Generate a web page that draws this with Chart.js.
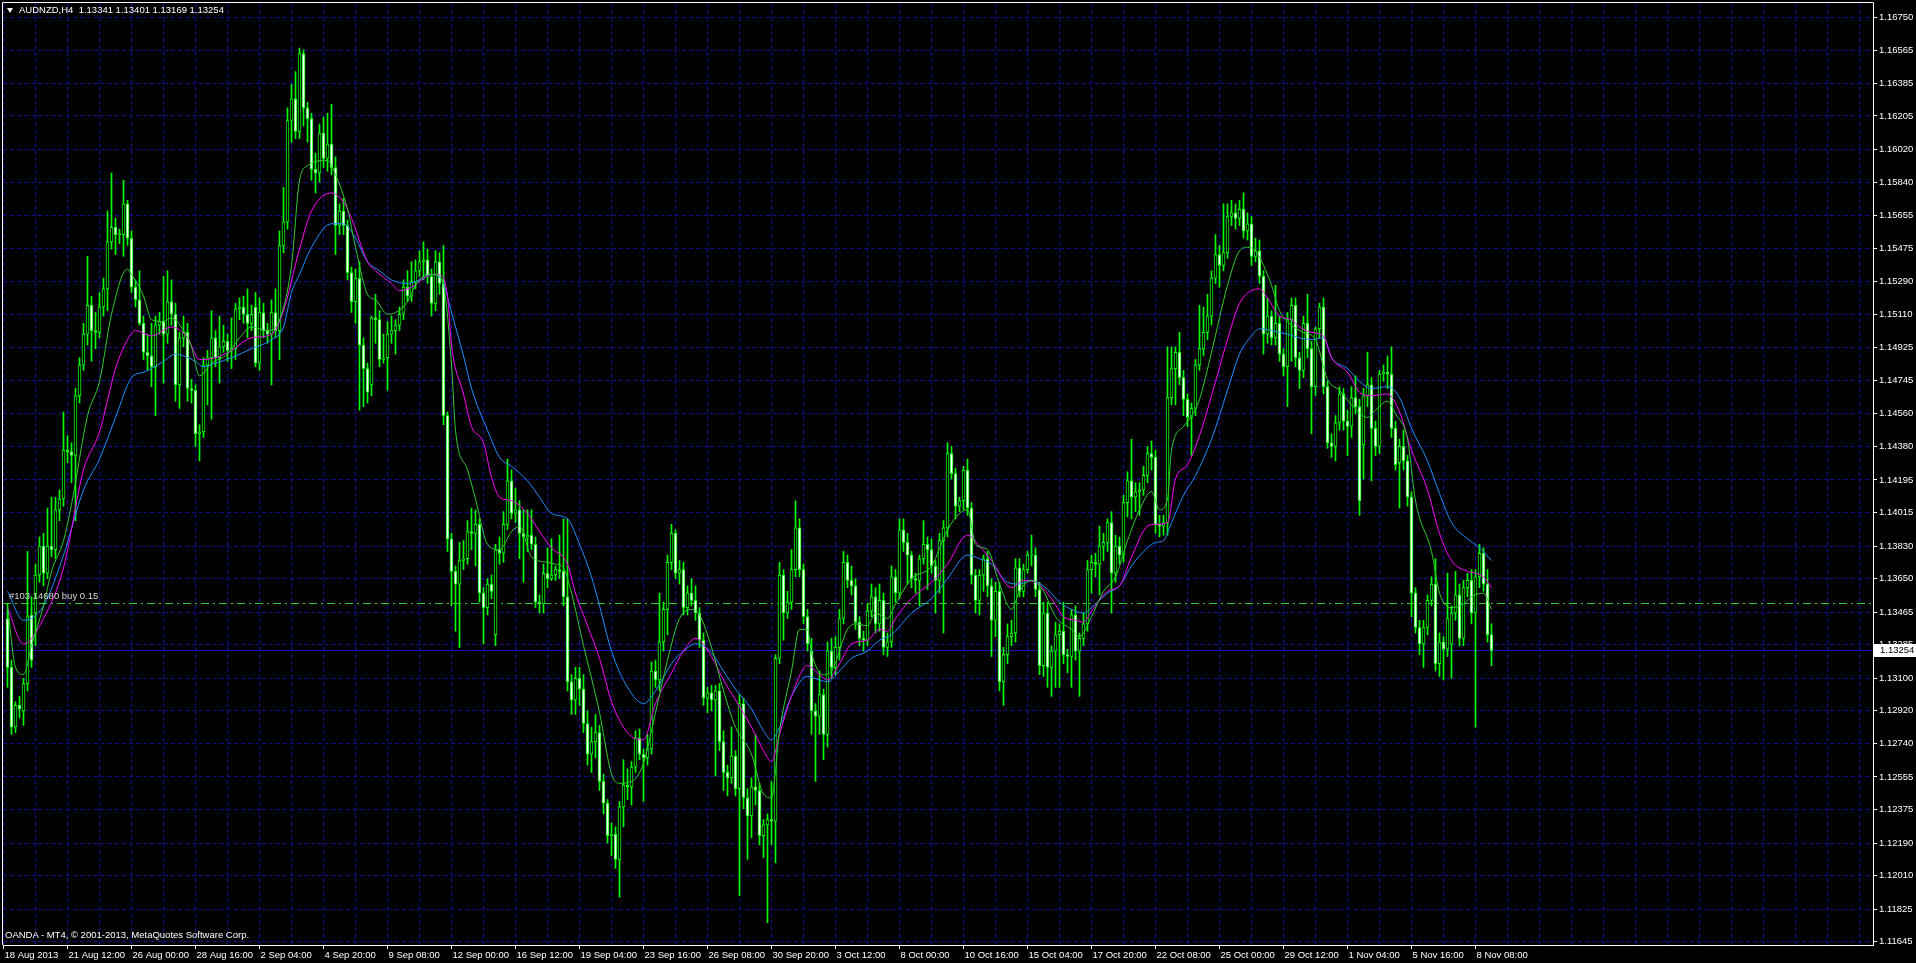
<!DOCTYPE html>
<html>
<head>
<meta charset="utf-8">
<title>AUDNZD,H4</title>
<script src="https://cdn.jsdelivr.net/npm/chart.js@4.4.1/dist/chart.umd.min.js"></script>
<style>
  html, body { margin:0; padding:0; background:#000; overflow:hidden; }
  #wrap { position:relative; width:1916px; height:963px; background:#000; }
  #chart { position:absolute; left:0; top:0; }
  .lbl { position:absolute; font-family:"Liberation Sans", Arial, sans-serif; font-size:9.5px; line-height:11px; color:#fff; white-space:pre; }
  #tri { position:absolute; left:7px; top:8px; width:0; height:0; border-left:3px solid transparent; border-right:3px solid transparent; border-top:5px solid #fff; }
</style>
</head>
<body>
<div id="wrap">
  <canvas id="chart" width="1916" height="963"></canvas>
  <div id="tri"></div>
  <div class="lbl" id="hdr" style="left:19px; top:4px;"></div>
  <div class="lbl" id="ord" style="left:9px; top:590px; color:#d8d8d8;"></div>
  <div class="lbl" id="ftr" style="left:5px; top:929px;"></div>
</div>
<script>
// ---------------- text ----------------
const symbolName = 'AUDNZD,H4';
const headerOHLC = ['1.13341', '1.13401', '1.13169', '1.13254'];
const orderText = '#103 14680 buy 0.15';
const copyrightText = 'OANDA - MT4, \u00A9 2001-2013, MetaQuotes Software Corp.';

// ---------------- axis tick labels ----------------
const xTickLabels = ['18 Aug 2013','21 Aug 12:00','26 Aug 00:00','28 Aug 16:00','2 Sep 04:00','4 Sep 20:00',
  '9 Sep 08:00','12 Sep 00:00','16 Sep 12:00','19 Sep 04:00','23 Sep 16:00','26 Sep 08:00','30 Sep 20:00',
  '3 Oct 12:00','8 Oct 00:00','10 Oct 16:00','15 Oct 04:00','17 Oct 20:00','22 Oct 08:00','25 Oct 00:00',
  '29 Oct 12:00','1 Nov 04:00','5 Nov 16:00','8 Nov 08:00'];
const yTickLabels = ['1.16750','1.16565','1.16385','1.16205','1.16020','1.15840','1.15655','1.15475','1.15290',
  '1.15110','1.14925','1.14745','1.14560','1.14380','1.14195','1.14015','1.13830','1.13650','1.13465','1.13285',
  '1.13100','1.12920','1.12740','1.12555','1.12375','1.12190','1.12010','1.11825','1.11645'];

// ---------------- candles (H4 bars, oldest first) ----------------
const openP = [
1.1343,1.1316,1.1283,1.1295,1.1292,1.1307,1.1345,1.1346,1.1367,1.1383,
1.1368,1.1383,1.1381,1.1403,1.1409,1.1436,1.1435,1.1433,1.1466,1.1483,
1.1500,1.1516,1.1502,1.1501,1.1515,1.1525,1.1551,1.1559,1.1555,1.1555,
1.1572,1.1553,1.1526,1.1519,1.1506,1.1490,1.1488,1.1482,1.1505,1.1507,
1.1500,1.1518,1.1511,1.1472,1.1498,1.1501,1.1470,1.1469,1.1445,1.1446,
1.1483,1.1487,1.1498,1.1487,1.1493,1.1496,1.1491,1.1492,1.1514,1.1515,
1.1511,1.1506,1.1515,1.1484,1.1512,1.1502,1.1500,1.1512,1.1502,1.1549,
1.1562,1.1618,1.1630,1.1612,1.1655,1.1625,1.1619,1.1591,1.1589,1.1611,
1.1597,1.1605,1.1592,1.1560,1.1568,1.1560,1.1534,1.1518,1.1531,1.1494,
1.1481,1.1472,1.1509,1.1508,1.1486,1.1487,1.1500,1.1502,1.1505,1.1511,
1.1526,1.1521,1.1529,1.1535,1.1540,1.1541,1.1532,1.1517,1.1540,1.1528,
1.1455,1.1387,1.1369,1.1362,1.1375,1.1376,1.1391,1.1390,1.1395,1.1357,
1.1349,1.1362,1.1334,1.1381,1.1379,1.1395,1.1419,1.1401,1.1403,1.1390,
1.1388,1.1389,1.1384,1.1352,1.1351,1.1368,1.1365,1.1367,1.1370,1.1369,
1.1355,1.1308,1.1298,1.1310,1.1304,1.1285,1.1268,1.1275,1.1280,1.1253,
1.1241,1.1223,1.1224,1.1210,1.1239,1.1251,1.1250,1.1261,1.1277,1.1268,
1.1266,1.1271,1.1314,1.1309,1.1330,1.1348,1.1374,1.1390,1.1368,1.1370,
1.1349,1.1357,1.1353,1.1346,1.1331,1.1299,1.1302,1.1298,1.1303,1.1275,
1.1258,1.1255,1.1267,1.1249,1.1296,1.1244,1.1234,1.1250,1.1248,1.1223,
1.1229,1.1232,1.1231,1.1321,1.1367,1.1346,1.1352,1.1370,1.1393,1.1370,
1.1344,1.1325,1.1292,1.1289,1.1301,1.1279,1.1325,1.1316,1.1327,1.1343,
1.1374,1.1364,1.1361,1.1341,1.1332,1.1331,1.1347,1.1355,1.1340,1.1353,
1.1327,1.1330,1.1366,1.1357,1.1392,1.1385,1.1378,1.1365,1.1364,1.1376,
1.1384,1.1381,1.1372,1.1364,1.1386,1.1393,1.1434,1.1423,1.1405,1.1408,
1.1425,1.1404,1.1367,1.1353,1.1367,1.1376,1.1361,1.1342,1.1358,1.1308,
1.1323,1.1333,1.1335,1.1371,1.1358,1.1370,1.1378,1.1378,1.1359,1.1317,
1.1346,1.1316,1.1325,1.1334,1.1336,1.1323,1.1322,1.1345,1.1325,1.1332,
1.1340,1.1370,1.1374,1.1373,1.1383,1.1385,1.1396,1.1368,1.1383,1.1378,
1.1407,1.1419,1.1410,1.1413,1.1414,1.1422,1.1434,1.1432,1.1395,1.1394,
1.1396,1.1465,1.1481,1.1490,1.1476,1.1464,1.1454,1.1459,1.1483,1.1492,
1.1501,1.1510,1.1531,1.1544,1.1538,1.1545,1.1565,1.1567,1.1564,1.1569,
1.1557,1.1561,1.1543,1.1546,1.1532,1.1500,1.1510,1.1498,1.1506,1.1489,
1.1482,1.1508,1.1516,1.1487,1.1480,1.1506,1.1492,1.1471,1.1503,1.1515,
1.1471,1.1440,1.1438,1.1451,1.1467,1.1452,1.1449,1.1465,1.1460,1.1439,
1.1466,1.1472,1.1448,1.1438,1.1478,1.1479,1.1478,1.1448,1.1429,1.1438,
1.1430,1.1410,1.1357,1.1338,1.1329,1.1338,1.1353,1.1362,1.1318,1.1330,
1.1326,1.1329,1.1346,1.1356,1.1332,1.1360,1.1364,1.1346,1.1366,1.1379,
1.1362,1.13341];
const highP = [
1.1351,1.1320,1.1297,1.1300,1.1310,1.1380,1.1355,1.1373,1.1388,1.1390,
1.1404,1.1410,1.1410,1.1414,1.1457,1.1444,1.1440,1.1470,1.1487,1.1506,
1.1543,1.1521,1.1512,1.1523,1.1531,1.1568,1.1589,1.1564,1.1558,1.1585,
1.1574,1.1557,1.1530,1.1535,1.1510,1.1500,1.1506,1.1510,1.1512,1.1532,
1.1535,1.1530,1.1517,1.1501,1.1510,1.1506,1.1475,1.1472,1.1450,1.1487,
1.1491,1.1513,1.1502,1.1510,1.1505,1.1500,1.1509,1.1517,1.1520,1.1521,
1.1525,1.1516,1.1523,1.1520,1.1517,1.1506,1.1519,1.1525,1.1557,1.1581,
1.1625,1.1638,1.1645,1.1658,1.1657,1.1628,1.1622,1.1600,1.1616,1.1620,
1.1622,1.1627,1.1598,1.1572,1.1575,1.1563,1.1537,1.1536,1.1540,1.1498,
1.1484,1.1510,1.1522,1.1513,1.1500,1.1507,1.1510,1.1508,1.1515,1.1530,
1.1535,1.1540,1.1541,1.1546,1.1551,1.1547,1.1536,1.1546,1.1545,1.1549,
1.1457,1.1390,1.1372,1.1385,1.1386,1.1397,1.1404,1.1403,1.1398,1.1360,
1.1365,1.1367,1.1384,1.1388,1.1402,1.1431,1.1425,1.1415,1.1408,1.1403,
1.1403,1.1403,1.1388,1.1356,1.1373,1.1382,1.1387,1.1372,1.1389,1.1398,
1.1398,1.1312,1.1316,1.1316,1.1312,1.1292,1.1283,1.1290,1.1284,1.1257,
1.1243,1.1230,1.1228,1.1242,1.1265,1.1260,1.1264,1.1281,1.1282,1.1271,
1.1279,1.1319,1.1320,1.1357,1.1352,1.1378,1.1395,1.1392,1.1375,1.1374,
1.1361,1.1365,1.1361,1.1349,1.1335,1.1305,1.1306,1.1306,1.1307,1.1281,
1.1262,1.1283,1.1270,1.1301,1.1299,1.1249,1.1255,1.1279,1.1252,1.1232,
1.1235,1.1253,1.1323,1.1374,1.1370,1.1358,1.1381,1.1408,1.1398,1.1373,
1.1348,1.1332,1.1296,1.1314,1.1304,1.1330,1.1332,1.1333,1.1348,1.1380,
1.1378,1.1372,1.1365,1.1344,1.1336,1.1351,1.1362,1.1360,1.1362,1.1357,
1.1335,1.1372,1.1370,1.1398,1.1398,1.1390,1.1380,1.1368,1.1378,1.1397,
1.1388,1.1387,1.1375,1.1390,1.1397,1.1440,1.1438,1.1426,1.1410,1.1427,
1.1431,1.1407,1.1370,1.1370,1.1378,1.1380,1.1365,1.1363,1.1363,1.1327,
1.1340,1.1342,1.1376,1.1376,1.1373,1.1380,1.1389,1.1382,1.1363,1.1352,
1.1352,1.1328,1.1341,1.1340,1.1352,1.1326,1.1348,1.1350,1.1335,1.1346,
1.1375,1.1378,1.1379,1.1394,1.1390,1.1398,1.1402,1.1389,1.1388,1.1411,
1.1424,1.1442,1.1418,1.1418,1.1427,1.1438,1.1441,1.1436,1.1400,1.1400,
1.1493,1.1493,1.1493,1.1501,1.1480,1.1467,1.1462,1.1486,1.1516,1.1515,
1.1522,1.1535,1.1555,1.1549,1.1572,1.1572,1.1574,1.1572,1.1574,1.1578,
1.1567,1.1565,1.1553,1.1552,1.1535,1.1520,1.1513,1.1527,1.1510,1.1492,
1.1512,1.1520,1.1520,1.1490,1.1510,1.1522,1.1496,1.1504,1.1517,1.1520,
1.1474,1.1445,1.1455,1.1471,1.1470,1.1458,1.1471,1.1477,1.1464,1.1470,
1.1490,1.1476,1.1452,1.1480,1.1483,1.1488,1.1493,1.1452,1.1442,1.1447,
1.1433,1.1413,1.1360,1.1342,1.1342,1.1356,1.1366,1.1376,1.1335,1.1333,
1.1368,1.1350,1.1369,1.1362,1.1364,1.1368,1.1370,1.1370,1.1384,1.1382,
1.1370,1.13401];
const lowP = [
1.1305,1.1279,1.1280,1.1288,1.1284,1.1303,1.1316,1.1328,1.1363,1.1361,
1.1365,1.1377,1.1376,1.1397,1.1405,1.1429,1.1418,1.1397,1.1462,1.1480,
1.1494,1.1485,1.1492,1.1498,1.1510,1.1513,1.1547,1.1544,1.1550,1.1543,
1.1549,1.1523,1.1515,1.1505,1.1486,1.1480,1.1471,1.1455,1.1500,1.1473,
1.1495,1.1505,1.1463,1.1459,1.1493,1.1463,1.1462,1.1438,1.1430,1.1443,
1.1461,1.1453,1.1482,1.1473,1.1490,1.1485,1.1481,1.1486,1.1508,1.1506,
1.1498,1.1502,1.1482,1.1480,1.1498,1.1495,1.1472,1.1498,1.1486,1.1545,
1.1558,1.1606,1.1608,1.1608,1.1615,1.1606,1.1585,1.1578,1.1584,1.1592,
1.1590,1.1588,1.1544,1.1555,1.1555,1.1530,1.1512,1.1506,1.1458,1.1460,
1.1462,1.1466,1.1495,1.1482,1.1484,1.1469,1.1495,1.1489,1.1502,1.1508,
1.1518,1.1518,1.1525,1.1532,1.1530,1.1528,1.1510,1.1513,1.1522,1.1450,
1.1380,1.1350,1.1336,1.1327,1.1370,1.1373,1.1381,1.1372,1.1352,1.1329,
1.1345,1.1354,1.1328,1.1373,1.1374,1.1392,1.1398,1.1396,1.1376,1.1363,
1.1380,1.1381,1.1349,1.1346,1.1346,1.1360,1.1364,1.1364,1.1365,1.1350,
1.1303,1.1290,1.1290,1.1295,1.1280,1.1262,1.1258,1.1266,1.1248,1.1235,
1.1219,1.1212,1.1205,1.1189,1.1228,1.1243,1.1240,1.1258,1.1265,1.1242,
1.1262,1.1268,1.1305,1.1303,1.1325,1.1334,1.1370,1.1365,1.1362,1.1345,
1.1345,1.1350,1.1342,1.1327,1.1295,1.1291,1.1292,1.1256,1.1270,1.1248,
1.1245,1.1252,1.1245,1.1190,1.1238,1.1210,1.1222,1.1240,1.1218,1.1211,
1.1175,1.1218,1.1208,1.1318,1.1331,1.1343,1.1348,1.1366,1.1366,1.1340,
1.1325,1.1279,1.1253,1.1279,1.1265,1.1272,1.1310,1.1312,1.1320,1.1340,
1.1360,1.1356,1.1337,1.1328,1.1325,1.1328,1.1344,1.1335,1.1336,1.1323,
1.1322,1.1327,1.1352,1.1354,1.1380,1.1362,1.1360,1.1357,1.1350,1.1373,
1.1359,1.1368,1.1346,1.1357,1.1335,1.1388,1.1420,1.1398,1.1402,1.1403,
1.1400,1.1362,1.1346,1.1345,1.1358,1.1355,1.1322,1.1333,1.1303,1.1295,
1.1318,1.1328,1.1330,1.1355,1.1355,1.1368,1.1372,1.1355,1.1312,1.1311,
1.1305,1.1300,1.1305,1.1305,1.1318,1.1313,1.1305,1.1320,1.1300,1.1328,
1.1336,1.1357,1.1366,1.1356,1.1375,1.1380,1.1346,1.1363,1.1373,1.1374,
1.1399,1.1398,1.1402,1.1400,1.1411,1.1418,1.1425,1.1390,1.1388,1.1389,
1.1389,1.1461,1.1461,1.1472,1.1455,1.1449,1.1433,1.1455,1.1480,1.1488,
1.1497,1.1505,1.1528,1.1526,1.1535,1.1542,1.1560,1.1558,1.1560,1.1553,
1.1552,1.1538,1.1540,1.1528,1.1489,1.1495,1.1494,1.1494,1.1485,1.1477,
1.1460,1.1485,1.1482,1.1470,1.1476,1.1487,1.1445,1.1466,1.1498,1.1467,
1.1437,1.1432,1.1430,1.1447,1.1447,1.1433,1.1443,1.1456,1.1400,1.1420,
1.1460,1.1419,1.1433,1.1434,1.1474,1.1470,1.1443,1.1425,1.1404,1.1425,
1.1405,1.1344,1.1335,1.1323,1.1316,1.1334,1.1350,1.1314,1.1311,1.1309,
1.1322,1.1310,1.1342,1.1328,1.1328,1.1355,1.1340,1.1283,1.1360,1.1358,
1.1330,1.13169];
const closeP = [
1.1316,1.1283,1.1295,1.1293,1.1307,1.1344,1.1320,1.1367,1.1383,1.1368,
1.1383,1.1381,1.1403,1.1409,1.1436,1.1435,1.1433,1.1466,1.1483,1.1500,
1.1516,1.1502,1.1501,1.1515,1.1525,1.1551,1.1559,1.1555,1.1555,1.1572,
1.1553,1.1526,1.1519,1.1506,1.1490,1.1488,1.1482,1.1505,1.1507,1.1500,
1.1518,1.1511,1.1472,1.1498,1.1501,1.1470,1.1469,1.1445,1.1446,1.1483,
1.1487,1.1498,1.1487,1.1493,1.1496,1.1491,1.1492,1.1514,1.1515,1.1511,
1.1506,1.1511,1.1484,1.1512,1.1502,1.1500,1.1512,1.1502,1.1549,1.1562,
1.1618,1.1630,1.1612,1.1655,1.1625,1.1619,1.1591,1.1589,1.1611,1.1597,
1.1605,1.1592,1.1560,1.1568,1.1560,1.1534,1.1518,1.1531,1.1494,1.1481,
1.1468,1.1509,1.1508,1.1486,1.1487,1.1500,1.1502,1.1505,1.1511,1.1526,
1.1521,1.1529,1.1535,1.1540,1.1541,1.1532,1.1517,1.1540,1.1528,1.1455,
1.1387,1.1369,1.1362,1.1375,1.1376,1.1391,1.1390,1.1395,1.1357,1.1349,
1.1362,1.1358,1.1381,1.1379,1.1395,1.1419,1.1401,1.1403,1.1390,1.1388,
1.1389,1.1384,1.1352,1.1351,1.1368,1.1365,1.1367,1.1370,1.1369,1.1355,
1.1308,1.1298,1.1310,1.1304,1.1285,1.1268,1.1275,1.1280,1.1253,1.1241,
1.1223,1.1224,1.1210,1.1239,1.1251,1.1250,1.1261,1.1277,1.1268,1.1266,
1.1271,1.1314,1.1309,1.1330,1.1348,1.1374,1.1390,1.1368,1.1370,1.1349,
1.1357,1.1353,1.1346,1.1331,1.1299,1.1302,1.1298,1.1303,1.1275,1.1258,
1.1255,1.1267,1.1249,1.1296,1.1244,1.1234,1.1250,1.1248,1.1223,1.1229,
1.1232,1.1231,1.1321,1.1367,1.1346,1.1352,1.1370,1.1393,1.1370,1.1344,
1.1329,1.1292,1.1289,1.1301,1.1279,1.1325,1.1316,1.1327,1.1343,1.1374,
1.1364,1.1361,1.1341,1.1332,1.1331,1.1347,1.1355,1.1340,1.1353,1.1327,
1.1330,1.1366,1.1357,1.1392,1.1385,1.1378,1.1365,1.1364,1.1376,1.1384,
1.1381,1.1372,1.1364,1.1386,1.1393,1.1434,1.1423,1.1405,1.1408,1.1425,
1.1404,1.1367,1.1353,1.1367,1.1376,1.1361,1.1342,1.1358,1.1308,1.1323,
1.1333,1.1335,1.1371,1.1358,1.1370,1.1378,1.1378,1.1359,1.1317,1.1346,
1.1316,1.1325,1.1334,1.1336,1.1323,1.1322,1.1345,1.1325,1.1332,1.1340,
1.1370,1.1374,1.1373,1.1383,1.1385,1.1396,1.1368,1.1383,1.1378,1.1407,
1.1419,1.1410,1.1413,1.1414,1.1422,1.1434,1.1432,1.1395,1.1394,1.1396,
1.1465,1.1481,1.1490,1.1476,1.1464,1.1454,1.1459,1.1483,1.1492,1.1501,
1.1510,1.1531,1.1544,1.1538,1.1545,1.1565,1.1567,1.1564,1.1569,1.1557,
1.1561,1.1543,1.1546,1.1532,1.1500,1.1510,1.1498,1.1506,1.1489,1.1482,
1.1508,1.1516,1.1487,1.1480,1.1506,1.1492,1.1471,1.1503,1.1515,1.1471,
1.1440,1.1438,1.1451,1.1467,1.1452,1.1449,1.1465,1.1460,1.1408,1.1466,
1.1472,1.1448,1.1438,1.1478,1.1479,1.1478,1.1448,1.1428,1.1438,1.1430,
1.1410,1.1357,1.1338,1.1329,1.1338,1.1353,1.1362,1.1318,1.1330,1.1326,
1.1343,1.1346,1.1356,1.1332,1.1360,1.1364,1.1346,1.1366,1.1379,1.1362,
1.1334,1.13254];

// ---------------- moving averages (values read at bar indices) ----------------
const maFastBar = [0,2,4,6,9,11,14,16,20,23,26,30,31,34,36,39,41,44,46,48,51,55,58,61,65,68,71,73,75,80,82,85,87,90,92,95,97,100,102,105,107,109,111,112,115,117,120,123,126,128,131,135,137,139,141,144,146,148,151,153,156,159,162,165,168,171,173,176,179,182,186,189,191,193,196,198,200,201,204,206,210,212,215,217,220,222,226,231,235,238,240,242,245,248,251,253,256,259,262,266,268,271,274,277,280,283,286,288,290,291,294,296,298,301,305,308,310,312,314,316,318,321,324,327,330,333,336,340,342,345,347,350,352,356,358,361,364,366,369,371];
const maFastVal = [1.1350,1.1316,1.1312,1.1328,1.1350,1.1369,1.1386,1.1406,1.1455,1.1474,1.1511,1.1536,1.1533,1.1521,1.1508,1.1507,1.1509,1.1502,1.1493,1.1477,1.1484,1.1489,1.1498,1.1504,1.1502,1.1508,1.1538,1.1585,1.1593,1.1596,1.1588,1.1569,1.1548,1.1522,1.1519,1.1511,1.1512,1.1518,1.1527,1.1533,1.1533,1.1527,1.1483,1.1447,1.1425,1.1409,1.1384,1.1381,1.1391,1.1394,1.1377,1.1374,1.1373,1.1371,1.1357,1.1328,1.1310,1.1291,1.1257,1.1252,1.1253,1.1263,1.1291,1.1320,1.1343,1.1348,1.1345,1.1327,1.1303,1.1283,1.1268,1.1246,1.1244,1.1281,1.1314,1.1337,1.1337,1.1324,1.1312,1.1314,1.1337,1.1340,1.1339,1.1346,1.1343,1.1351,1.1365,1.1372,1.1392,1.1401,1.1403,1.1384,1.1381,1.1362,1.1348,1.1358,1.1364,1.1358,1.1344,1.1337,1.1333,1.1344,1.1358,1.1366,1.1386,1.1403,1.1413,1.1403,1.1409,1.1436,1.1449,1.1455,1.1464,1.1490,1.1527,1.1546,1.1548,1.1546,1.1538,1.1527,1.1513,1.1505,1.1501,1.1497,1.1475,1.1469,1.1461,1.1454,1.1458,1.1463,1.1456,1.1442,1.1408,1.1380,1.1357,1.1349,1.1351,1.1355,1.1357,1.1348];

const maMidBar = [0,4,9,14,19,23,27,30,32,36,41,45,48,52,56,61,66,69,73,76,81,84,86,90,92,96,98,101,103,106,108,110,111,114,116,119,121,123,126,130,133,136,140,142,145,148,151,155,159,162,166,169,172,176,179,182,186,189,191,193,196,200,203,205,208,211,215,218,220,222,226,231,235,240,243,246,251,254,257,261,264,267,269,271,275,278,281,285,287,290,292,295,298,301,305,308,313,315,318,321,323,326,329,331,335,338,341,345,348,351,355,358,361,365,367,369,371];
const maMidVal = [1.1349,1.1329,1.1343,1.1371,1.1425,1.1446,1.1481,1.1497,1.1502,1.1499,1.1504,1.1498,1.1486,1.1487,1.1491,1.1498,1.1500,1.1513,1.1547,1.1568,1.1578,1.1573,1.1564,1.1540,1.1535,1.1528,1.1524,1.1526,1.1529,1.1533,1.1533,1.1521,1.1494,1.1467,1.1449,1.1440,1.1421,1.1410,1.1408,1.1401,1.1391,1.1382,1.1373,1.1357,1.1339,1.1321,1.1297,1.1280,1.1276,1.1296,1.1313,1.1325,1.1332,1.1322,1.1309,1.1298,1.1283,1.1270,1.1264,1.1279,1.1300,1.1317,1.1312,1.1309,1.1318,1.1329,1.1331,1.1337,1.1336,1.1343,1.1354,1.1363,1.1373,1.1389,1.1383,1.1375,1.1360,1.1364,1.1363,1.1354,1.1344,1.1342,1.1341,1.1347,1.1358,1.1361,1.1377,1.1394,1.1395,1.1396,1.1420,1.1428,1.1444,1.1466,1.1497,1.1517,1.1525,1.1520,1.1510,1.1508,1.1504,1.1501,1.1499,1.1487,1.1479,1.1468,1.1466,1.1467,1.1457,1.1436,1.1414,1.1390,1.1375,1.1369,1.1368,1.1366,1.1360];

const maSlowBar = [0,4,9,14,19,23,27,31,34,36,39,42,44,47,49,52,56,61,66,69,71,73,76,81,84,87,90,93,96,100,103,106,109,111,114,116,120,123,126,130,133,136,140,143,146,148,151,155,159,162,166,169,172,176,179,182,186,189,191,193,196,200,203,205,208,211,215,218,221,226,231,235,240,243,246,250,253,256,260,263,266,269,271,275,278,281,285,287,289,291,294,297,301,305,308,311,313,316,320,323,326,329,331,335,338,341,345,348,351,355,358,361,365,368,371];
const maSlowVal = [1.1358,1.1342,1.1350,1.1378,1.1414,1.1431,1.1454,1.1476,1.1479,1.1481,1.1485,1.1489,1.1488,1.1485,1.1482,1.1484,1.1487,1.1492,1.1497,1.1504,1.1523,1.1533,1.1548,1.1561,1.1561,1.1553,1.1540,1.1535,1.1530,1.1528,1.1530,1.1533,1.1528,1.1512,1.1488,1.1470,1.1447,1.1432,1.1427,1.1419,1.1410,1.1401,1.1398,1.1384,1.1366,1.1350,1.1325,1.1305,1.1296,1.1303,1.1318,1.1325,1.1329,1.1324,1.1314,1.1304,1.1293,1.1281,1.1276,1.1283,1.1300,1.1311,1.1309,1.1308,1.1314,1.1321,1.1325,1.1331,1.1334,1.1346,1.1354,1.1365,1.1378,1.1376,1.1373,1.1363,1.1362,1.1364,1.1359,1.1352,1.1348,1.1346,1.1349,1.1357,1.1361,1.1372,1.1382,1.1385,1.1386,1.1396,1.1411,1.1422,1.1442,1.1469,1.1489,1.1499,1.1503,1.1502,1.1500,1.1498,1.1497,1.1498,1.1487,1.1481,1.1474,1.1470,1.1471,1.1465,1.1448,1.1430,1.1412,1.1396,1.1387,1.1382,1.1375];

// ---------------- horizontal levels ----------------
const orderPrice = 1.13513;
const bidPrice = 1.13254;

// ---------------- layout / style (not data) ----------------
const PLOT = { left: 3, top: 3, right: 1873, bottom: 945 };
const BAR_STEP = 4, BAR0_X = 7.5;
const GRID_EVERY = 8, FIRST_TICK = -1;
const Y_TOP_PX = 17.3, Y_BOT_PX = 941.7;
const FONT = { family: '"Liberation Sans", Arial, sans-serif', size: 9.5 };
const C = { candle: '#00ff00', fast: '#32cd32', mid: '#ff00ff', slow: '#1e90ff', grid: '#10108c',
            bid: '#1a1ab4', order: '#32cd32', fg: '#ffffff' };

const yTop = parseFloat(yTickLabels[0]);
const yBot = parseFloat(yTickLabels[yTickLabels.length - 1]);
const pxPerUnit = (Y_BOT_PX - Y_TOP_PX) / (yTop - yBot);
const yMax = yTop + (Y_TOP_PX - PLOT.top) / pxPerUnit;
const yMin = yBot - (PLOT.bottom - Y_BOT_PX) / pxPerUnit;
const xMin = (PLOT.left - BAR0_X) / BAR_STEP;
const xMax = (PLOT.right - BAR0_X) / BAR_STEP;

document.getElementById('hdr').textContent = symbolName + '  ' + headerOHLC.join(' ');
document.getElementById('ord').textContent = orderText;
document.getElementById('ftr').textContent = copyrightText;

const idx = closeP.map((_, i) => i);
const wickData = idx.map(i => ({ x: i, y: [lowP[i], highP[i]] }));
const bodyData = idx.map(i => ({ x: i, y: [openP[i], closeP[i]] }));
const bodyFill = idx.map(i => (closeP[i] < openP[i] ? '#ffffff' : '#000000'));
const pts = (bars, vals) => bars.map((b, k) => ({ x: b, y: vals[k] }));

const levels = {
  id: 'levels',
  beforeDatasetsDraw(chart) {
    const { ctx, chartArea: a, scales: { y } } = chart;
    ctx.save();
    ctx.lineWidth = 1;
    let py = Math.round(y.getPixelForValue(bidPrice)) + 0.5;
    ctx.strokeStyle = C.bid; ctx.setLineDash([]);
    ctx.beginPath(); ctx.moveTo(a.left, py); ctx.lineTo(a.right, py); ctx.stroke();
    py = Math.round(y.getPixelForValue(orderPrice)) + 0.5;
    ctx.strokeStyle = C.order; ctx.setLineDash([8, 4, 2, 4]);
    ctx.beginPath(); ctx.moveTo(a.left, py); ctx.lineTo(a.right, py); ctx.stroke();
    ctx.restore();
  },
  afterDraw(chart) {
    const { ctx, chartArea: a, scales: { y } } = chart;
    ctx.save();
    ctx.strokeStyle = C.fg; ctx.lineWidth = 1; ctx.setLineDash([]);
    ctx.beginPath();
    ctx.moveTo(a.left - 0.5, a.bottom); ctx.lineTo(a.left - 0.5, a.top - 0.5); ctx.lineTo(a.right + 0.5, a.top - 0.5);
    ctx.stroke();
    const py = Math.round(y.getPixelForValue(bidPrice));
    ctx.fillStyle = '#ffffff';
    ctx.fillRect(a.right + 1, py - 6, chart.width - a.right - 1, 13);
    ctx.fillStyle = '#000000';
    ctx.font = FONT.size + 'px ' + FONT.family;
    ctx.textBaseline = 'middle'; ctx.textAlign = 'left';
    ctx.fillText(bidPrice.toFixed(5), a.right + 7, py + 0.5);
    ctx.restore();
  }
};

new Chart(document.getElementById('chart'), {
  type: 'bar',
  data: {
    datasets: [
      { type: 'bar', data: wickData, backgroundColor: C.candle, borderWidth: 0, barThickness: 1,
        grouped: false, order: 4 },
      { type: 'bar', data: bodyData, backgroundColor: bodyFill, borderColor: C.candle, borderWidth: 1,
        borderSkipped: false, barThickness: 3, minBarLength: 1, grouped: false, order: 3 },
      { type: 'line', data: pts(maSlowBar, maSlowVal), borderColor: C.slow, borderWidth: 1, pointRadius: 0,
        cubicInterpolationMode: 'monotone', order: 2 },
      { type: 'line', data: pts(maMidBar, maMidVal), borderColor: C.mid, borderWidth: 1, pointRadius: 0,
        cubicInterpolationMode: 'monotone', order: 1 },
      { type: 'line', data: pts(maFastBar, maFastVal), borderColor: C.fast, borderWidth: 1, pointRadius: 0,
        cubicInterpolationMode: 'monotone', order: 0 }
    ]
  },
  options: {
    responsive: false,
    devicePixelRatio: 1,
    animation: false,
    events: [],
    layout: { padding: { left: PLOT.left, top: PLOT.top, right: 0, bottom: 0 } },
    plugins: { legend: { display: false }, tooltip: { enabled: false }, title: { display: false } },
    scales: {
      x: {
        type: 'linear', position: 'bottom', min: xMin, max: xMax, offset: false,
        afterBuildTicks(s) {
          const t = [];
          for (let v = FIRST_TICK; v <= xMax; v += GRID_EVERY) t.push({ value: v });
          s.ticks = t;
        },
        afterFit(s) { s.height = 963 - PLOT.bottom; s.paddingLeft = 0; s.paddingRight = 0; },
        grid: { offset: false, color: C.grid, lineWidth: 1, drawTicks: true, tickLength: 4,
                tickColor: (ctx) => (ctx.index % 2 === 0 && ctx.index / 2 < xTickLabels.length ? C.fg : 'rgba(0,0,0,0)') },
        border: { display: true, color: C.fg, width: 1, dash: [4, 3] },
        ticks: {
          autoSkip: false, maxRotation: 0, minRotation: 0, align: 'start', padding: 1, labelOffset: 1,
          color: C.fg, font: FONT,
          callback: (v, i) => (i % 2 === 0 && i / 2 < xTickLabels.length ? xTickLabels[i / 2] : '')
        }
      },
      y: {
        type: 'linear', position: 'right', min: yMin, max: yMax,
        afterBuildTicks(s) { s.ticks = yTickLabels.map(t => ({ value: parseFloat(t) })); },
        afterFit(s) { s.width = 1916 - PLOT.right; s.paddingTop = 0; s.paddingBottom = 0; },
        grid: { color: C.grid, lineWidth: 1, drawTicks: true, tickLength: 4, tickColor: C.fg },
        border: { display: true, color: C.fg, width: 1, dash: [4, 3] },
        ticks: { autoSkip: false, padding: 2, color: C.fg, font: FONT,
                 callback: (v, i) => yTickLabels[i] }
      }
    }
  },
  plugins: [levels]
});
</script>
</body>
</html>
